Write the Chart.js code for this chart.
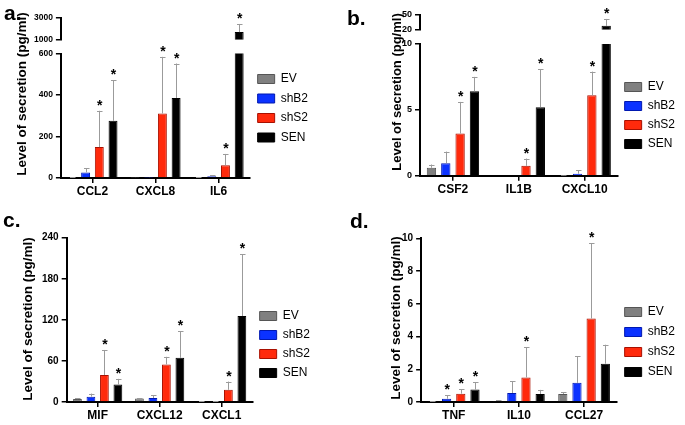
<!DOCTYPE html>
<html><head><meta charset="utf-8">
<script src="https://cdn.jsdelivr.net/npm/chart.js@4.4.1/dist/chart.umd.min.js"></script>
<style>
html,body{margin:0;padding:0;background:#fff;}
#wrap{position:relative;width:685px;height:425px;overflow:hidden;background:#fff;}
canvas{position:absolute;}
.lbl{position:absolute;font-family:'Liberation Sans',Arial,sans-serif;font-weight:bold;font-size:21px;line-height:1;color:#000;}
</style></head><body>
<div id="wrap">
<canvas id="ca" width="340" height="210" style="left:0;top:0"></canvas>
<canvas id="cb" width="345" height="210" style="left:340px;top:0"></canvas>
<canvas id="cc" width="340" height="225" style="left:0;top:200px"></canvas>
<canvas id="cd" width="345" height="225" style="left:340px;top:200px"></canvas>
<div class="lbl" style="left:4px;top:2px">a.</div>
<div class="lbl" style="left:347px;top:7px">b.</div>
<div class="lbl" style="left:3px;top:209px">c.</div>
<div class="lbl" style="left:350px;top:210px">d.</div>
</div>
<script>
// ---------- data ----------
const seriesNames = ['EV', 'shB2', 'shS2', 'SEN'];

// panel a
const catsA = ['CCL2', 'CXCL8', 'IL6'];
const a_EV = [3, 1, 2];          const a_EV_err = [1, 0.5, 1];
const a_shB2 = [27, 1.5, 9];     const a_shB2_err = [19, 0.5, 4];
const a_shS2 = [149, 311, 62];   const a_shS2_err = [175, 273, 54];
const a_SEN = [276, 386, 1700];  const a_SEN_err = [195, 166, 750];
const a_sig_EV = [0, 0, 0], a_sig_shB2 = [0, 0, 0], a_sig_shS2 = [1, 1, 1], a_sig_SEN = [1, 1, 1];
const a_ticksLower = [0, 200, 400, 600];
const a_ticksUpper = [1000, 3000];

// panel b
const catsB = ['CSF2', 'IL1B', 'CXCL10'];
const b_EV = [0.6, 0, 0.03];     const b_EV_err = [0.25, 0, 0.02];
const b_shB2 = [0.95, 0, 0.15];  const b_shB2_err = [0.88, 0, 0.25];
const b_shS2 = [3.2, 0.75, 6.1]; const b_shS2_err = [2.4, 0.55, 1.8];
const b_SEN = [6.4, 5.2, 28];    const b_SEN_err = [1.1, 2.9, 14];
const b_sig_EV = [0, 0, 0], b_sig_shB2 = [0, 0, 0], b_sig_shS2 = [1, 1, 1], b_sig_SEN = [1, 1, 1];
const b_ticksLower = [0, 5, 10];
const b_ticksUpper = [20, 50];

// panel c
const catsC = ['MIF', 'CXCL12', 'CXCL1'];
const c_EV = [4.2, 5, 1];        const c_EV_err = [1, 0.7, 0.5];
const c_shB2 = [7.8, 5.8, 1];    const c_shB2_err = [4.5, 4, 0.5];
const c_shS2 = [39.5, 54.9, 17.8]; const c_shS2_err = [36.5, 11.1, 12];
const c_SEN = [25.5, 64.5, 125.6]; const c_SEN_err = [8.3, 39, 90.4];
const c_sig_EV = [0, 0, 0], c_sig_shB2 = [0, 0, 0], c_sig_shS2 = [1, 1, 1], c_sig_SEN = [1, 1, 1];
const c_ticks = [0, 60, 120, 180, 240];

// panel d
const catsD = ['TNF', 'IL10', 'CCL27'];
const d_EV = [0.03, 0.06, 0.49]; const d_EV_err = [0.01, 0.06, 0.11];
const d_shB2 = [0.2, 0.55, 1.17]; const d_shB2_err = [0.2, 0.72, 1.63];
const d_shS2 = [0.51, 1.5, 5.1]; const d_shS2_err = [0.26, 1.86, 4.6];
const d_SEN = [0.76, 0.49, 2.34]; const d_SEN_err = [0.44, 0.25, 1.16];
const d_sig_EV = [0, 0, 0], d_sig_shB2 = [1, 0, 0], d_sig_shS2 = [1, 1, 1], d_sig_SEN = [1, 0, 0];
const d_ticks = [0, 2, 4, 6, 8, 10];

// ---------- style ----------
const FF = "'Liberation Sans', Arial, Helvetica, sans-serif";
const fills = ['#808080', '#0b32ff', '#ff2a0c', '#000000'];
const borders = ['#555555', '#0018b0', '#a81000', '#000000'];

// clip each dataset to its own y-scale band (broken axes) and draw error bars
const bandPlugin = {
  id: 'band',
  beforeDatasetDraw(chart, args) {
    const ys = args.meta.yScale, ca = chart.chartArea, ctx = chart.ctx;
    ctx.save();
    ctx.beginPath();
    ctx.rect(ca.left - 1, ys.top - 0.5, ca.right - ca.left + 2, ys.bottom - ys.top + 0.5);
    ctx.clip();
  },
  afterDatasetDraw(chart, args) {
    const ctx = chart.ctx, meta = args.meta, ys = meta.yScale;
    const ds = chart.data.datasets[args.index];
    ctx.strokeStyle = '#9b9b9b';
    ctx.lineWidth = 1;
    meta.data.forEach((bar, i) => {
      const v = ds.data[i], e = ds.errors[i];
      if (!e) return;
      const y0 = ys.getPixelForValue(v), y1 = ys.getPixelForValue(v + e);
      const x = Math.round(bar.x) + 0.5;
      ctx.beginPath();
      ctx.moveTo(x, y0);
      ctx.lineTo(x, y1);
      ctx.moveTo(x - 2.5, Math.round(y1) + 0.5);
      ctx.lineTo(x + 3, Math.round(y1) + 0.5);
      ctx.stroke();
    });
    ctx.restore();
  },
  afterDatasetsDraw(chart) {
    const ctx = chart.ctx;
    ctx.save();
    ctx.fillStyle = '#000';
    ctx.font = 'bold 14px ' + FF;
    ctx.textAlign = 'center';
    ctx.textBaseline = 'alphabetic';
    chart.data.datasets.forEach((ds, di) => {
      if (!ds.sig) return;
      const meta = chart.getDatasetMeta(di);
      meta.data.forEach((bar, i) => {
        if (!ds.sig[i]) return;
        const top = ds.data[i] + ds.errors[i];
        const ys = (chart.scales.y2 && top > chart.scales.y.max) ? chart.scales.y2 : chart.scales.y;
        ctx.fillText('*', bar.x + 0.5, ys.getPixelForValue(top) - 1);
      });
    });
    ctx.restore();
  }
};

const yTitlePlugin = {
  id: 'yTitle',
  afterDraw(chart, args, o) {
    const ctx = chart.ctx;
    ctx.save();
    ctx.translate(o.x, o.y);
    ctx.rotate(-Math.PI / 2);
    ctx.font = 'bold ' + o.size + 'px ' + FF;
    ctx.fillStyle = '#000';
    ctx.textAlign = 'center';
    ctx.textBaseline = 'middle';
    ctx.fillText(o.text, 0, 0);
    ctx.restore();
  }
};

function yAxis(ticksArr, tickSize, extra) {
  return Object.assign({
    type: 'linear', axis: 'y', position: 'left', stacked: false,
    min: ticksArr[0], max: ticksArr[ticksArr.length - 1],
    afterBuildTicks: sc => { sc.ticks = ticksArr.map(v => ({ value: v })); },
    grid: { display: true, drawOnChartArea: false, drawTicks: true, tickLength: 5, color: '#000', lineWidth: 1.5 },
    border: { display: true, color: '#000', width: 2 },
    ticks: { autoSkip: false, font: { family: FF, weight: 'bold', size: tickSize }, color: '#000', padding: 3, callback: v => String(v) }
  }, extra || {});
}

function makePanel(canvasId, p) {
  const datasets = [];
  for (let s = 0; s < 4; s++) {
    datasets.push({
      label: seriesNames[s], data: p.means[s], errors: p.errs[s], sig: p.sigs[s], stack: seriesNames[s],
      backgroundColor: fills[s], borderColor: borders[s], borderWidth: 1,
      xAxisID: 'x', yAxisID: 'y', categoryPercentage: 0.87, barPercentage: 0.65
    });
  }
  const scales = {
    x: {
      type: 'category', labels: p.cats, position: 'bottom', offset: true,
      grid: { display: true, offset: false, drawOnChartArea: false, tickLength: 5, color: '#000', lineWidth: 1.5 },
      border: { display: true, color: '#000', width: 2 },
      ticks: { font: { family: FF, weight: 'bold', size: 12, lineHeight: 1.15 }, color: '#000', padding: 2 }
    }
  };
  if (p.upper) {
    for (let s = 0; s < 4; s++) {
      datasets.push({
        label: seriesNames[s] + ' (upper)', data: p.means[s], errors: p.errs[s], stack: seriesNames[s],
        backgroundColor: fills[s], borderColor: borders[s], borderWidth: 1,
        xAxisID: 'x', yAxisID: 'y2', categoryPercentage: 0.87, barPercentage: 0.65
      });
    }
    scales.y = yAxis(p.lower, p.tickSize, { stack: 'brk', stackWeight: p.w[2], weight: 0 });
    scales.gap = { type: 'linear', axis: 'y', position: 'left', stack: 'brk', stackWeight: p.w[1], weight: 1, display: false, min: 0, max: 1 };
    scales.y2 = yAxis(p.upper, p.tickSize, { stack: 'brk', stackWeight: p.w[0], weight: 2 });
  } else {
    scales.y = yAxis(p.lower, p.tickSize);
  }
  new Chart(document.getElementById(canvasId), {
    type: 'bar',
    data: { labels: p.cats, datasets },
    options: {
      responsive: false, animation: false, devicePixelRatio: 1,
      layout: { padding: p.pad },
      scales,
      plugins: {
        tooltip: { enabled: false },
        legend: {
          position: 'right', align: 'center', fullSize: false, maxWidth: 100,
          title: { display: true, text: '', font: { size: 10, lineHeight: 1 }, padding: { top: p.legTitle - 10, bottom: 0 } },
          labels: {
            boxWidth: 17, boxHeight: 9, padding: p.legPad, color: '#000',
            font: { family: FF, size: 12 },
            filter: it => it.datasetIndex < 4
          }
        },
        yTitle: { text: 'Level of secretion (pg/ml)', x: p.tx, y: p.ty, size: p.ts }
      }
    },
    plugins: [bandPlugin, yTitlePlugin]
  });
}

makePanel('ca', {
  cats: catsA,
  means: [a_EV, a_shB2, a_shS2, a_SEN], errs: [a_EV_err, a_shB2_err, a_shS2_err, a_SEN_err],
  sigs: [a_sig_EV, a_sig_shB2, a_sig_shS2, a_sig_SEN],
  lower: a_ticksLower, upper: a_ticksUpper, w: [22, 14, 126], tickSize: 8.5,
  pad: { left: 31, top: 18, right: 22, bottom: 9.2 }, legPad: 7.5, legTitle: 20.5, tx: 22, ty: 94, ts: 13.5
});
makePanel('cb', {
  cats: catsB,
  means: [b_EV, b_shB2, b_shS2, b_SEN], errs: [b_EV_err, b_shB2_err, b_shS2_err, b_SEN_err],
  sigs: [b_sig_EV, b_sig_shB2, b_sig_shS2, b_sig_SEN],
  lower: b_ticksLower, upper: b_ticksUpper, w: [15, 14.3, 133.4], tickSize: 9,
  pad: { left: 59, top: 15, right: 0, bottom: 11.5 }, legPad: 7, legTitle: 40.3, tx: 57, ty: 92, ts: 13
});
makePanel('cc', {
  cats: catsC,
  means: [c_EV, c_shB2, c_shS2, c_SEN], errs: [c_EV_err, c_shB2_err, c_shS2_err, c_SEN_err],
  sigs: [c_sig_EV, c_sig_shB2, c_sig_shS2, c_sig_SEN],
  lower: c_ticks, upper: null, tickSize: 10,
  pad: { left: 39, top: 37.7, right: 20, bottom: 0.2 }, legPad: 7, legTitle: 49.3, tx: 28, ty: 119, ts: 13.5
});
makePanel('cd', {
  cats: catsD,
  means: [d_EV, d_shB2, d_shS2, d_SEN], errs: [d_EV_err, d_shB2_err, d_shS2_err, d_SEN_err],
  sigs: [d_sig_EV, d_sig_shB2, d_sig_shS2, d_sig_SEN],
  lower: d_ticks, upper: null, tickSize: 10,
  pad: { left: 59, top: 38.3, right: 0, bottom: 0.2 }, legPad: 8, legTitle: 43.7, tx: 56, ty: 118, ts: 13.5
});
</script>
</body></html>
